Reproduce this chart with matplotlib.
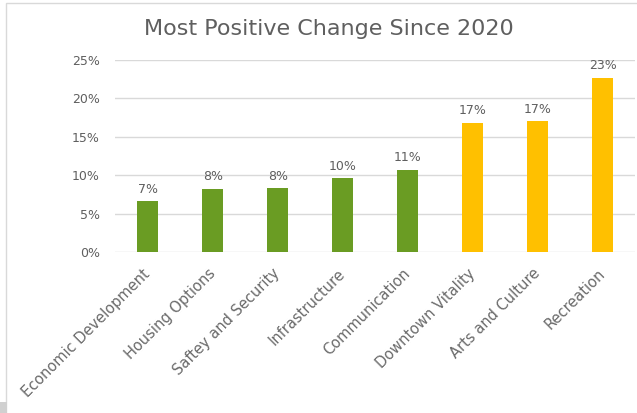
import matplotlib.pyplot as plt
from matplotlib.patches import Rectangle
from matplotlib.ticker import PercentFormatter, MultipleLocator

categories = ["Economic Development", "Housing Options", "Saftey and Security",
              "Infrastructure", "Communication", "Downtown Vitality",
              "Arts and Culture", "Recreation"]
values = [0.066, 0.082, 0.083, 0.096, 0.107, 0.168, 0.170, 0.227]
groups = ["g", "g", "g", "g", "g", "y", "y", "y"]

palette = {"g": "#6A9C23", "y": "#FFC000"}
text_grey = "#5F5F5F"

plt.rcParams['font.family'] = ['DejaVu Sans']

fig = plt.figure(figsize=(6.37, 4.13), dpi=100)
ax = fig.add_axes([0.181, 0.39, 0.816, 0.465])

x = range(len(categories))
bars = ax.bar(x, values, width=0.32, color=[palette[g] for g in groups], zorder=3)

for b, v in zip(bars, values):
    ax.annotate(f"{v:.0%}", (b.get_x() + b.get_width() / 2, v),
                xytext=(0, 4), textcoords="offset points",
                ha="center", va="bottom", fontsize=9, color=text_grey)

ax.set_xlim(-0.5, len(categories) - 0.5)
ax.set_ylim(0, 0.25)
ax.yaxis.set_major_locator(MultipleLocator(0.05))
ax.yaxis.set_major_formatter(PercentFormatter(1.0, decimals=0))
ax.grid(axis="y", color="#D9D9D9", linewidth=1, zorder=0)
for s in ax.spines.values():
    s.set_visible(False)
ax.tick_params(axis="both", length=0, colors=text_grey, labelsize=9)
ax.tick_params(axis="y", pad=11)
ax.tick_params(axis="x", pad=14, labelsize=10.5, labelcolor="#6A6A6A")
ax.set_xticks(list(x))
ax.set_xticklabels(categories, rotation=45, ha="right", va="center",
                   rotation_mode="anchor")

ax.set_title("Most Positive Change Since 2020", fontsize=16, color=text_grey,
             pad=18, x=0.41)

# chart frame and the scrap of grey in the lower corner
fig.patches.append(Rectangle((5.5 / 637, -0.1), 1.2, 1.1 - 3 / 413,
                             transform=fig.transFigure, fill=False,
                             edgecolor="#D9D9D9", linewidth=1))
fig.patches.append(Rectangle((0, 0), 7 / 637, 11 / 413,
                             transform=fig.transFigure, color="#D0D0D0",
                             linewidth=0))

fig.savefig("out.png", dpi=100)
